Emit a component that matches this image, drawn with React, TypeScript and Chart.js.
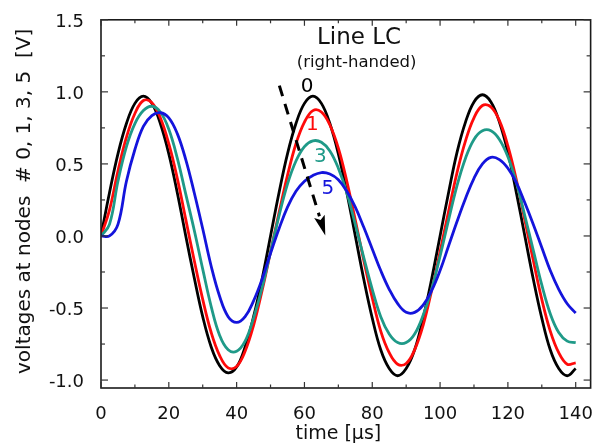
import React, { useEffect, useRef } from "react";
import { Chart, registerables } from "chart.js";

Chart.register(...registerables);

// time axis (µs)
const times = [
  0, 2.5, 5, 7.5, 10, 12.5, 15, 17.5, 20, 22.5,
  25, 27.5, 30, 32.5, 35, 37.5, 40, 42.5, 45, 47.5,
  50, 52.5, 55, 57.5, 60, 62.5, 65, 67.5, 70, 72.5,
  75, 77.5, 80, 82.5, 85, 87.5, 90, 92.5, 95, 97.5,
  100, 102.5, 105, 107.5, 110, 112.5, 115, 117.5, 120, 122.5,
  125, 127.5, 130, 132.5, 135, 137.5, 140,
];

// node #0 (black)
const node0 = [
  0, 0.3, 0.57, 0.78, 0.92, 0.97, 0.92, 0.78, 0.57, 0.3,
  0, -0.29, -0.56, -0.77, -0.9, -0.95, -0.91, -0.77, -0.56, -0.3,
  0, 0.3, 0.57, 0.78, 0.92, 0.97, 0.92, 0.78, 0.57, 0.3,
  0, -0.3, -0.57, -0.79, -0.92, -0.97, -0.92, -0.79, -0.57, -0.3,
  0, 0.3, 0.58, 0.79, 0.93, 0.98, 0.93, 0.79, 0.58, 0.3,
  0, -0.3, -0.57, -0.79, -0.92, -0.97, -0.92,
];

// node #1 (red)
const node1 = [
  0, 0.18, 0.45, 0.685, 0.85, 0.94, 0.925, 0.82, 0.64, 0.4,
  0.115, -0.17, -0.44, -0.67, -0.83, -0.915, -0.905, -0.8, -0.62, -0.38,
  -0.11, 0.16, 0.42, 0.64, 0.79, 0.87, 0.86, 0.77, 0.61, 0.38,
  0.11, -0.17, -0.43, -0.66, -0.81, -0.89, -0.885, -0.79, -0.62, -0.38,
  -0.11, 0.17, 0.44, 0.66, 0.82, 0.905, 0.895, 0.8, 0.625, 0.39,
  0.11, -0.17, -0.44, -0.66, -0.81, -0.89, -0.88,
];

// node #3 (teal)
const node3 = [
  0, 0.08, 0.38, 0.62, 0.78, 0.87, 0.9, 0.86, 0.74, 0.54,
  0.29, 0.04, -0.23, -0.49, -0.69, -0.79, -0.8, -0.73, -0.57, -0.36,
  -0.11, 0.14, 0.36, 0.52, 0.62, 0.66, 0.65, 0.59, 0.47, 0.3,
  0.08, -0.15, -0.37, -0.56, -0.68, -0.74, -0.74, -0.68, -0.55, -0.37,
  -0.14, 0.11, 0.35, 0.54, 0.67, 0.73, 0.73, 0.67, 0.55, 0.37,
  0.14, -0.1, -0.34, -0.54, -0.67, -0.73, -0.74,
];

// node #5 (blue)
const node5 = [
  0, 0, 0.08, 0.38, 0.6, 0.76, 0.835, 0.855, 0.82, 0.71,
  0.53, 0.3, 0.05, -0.21, -0.42, -0.56, -0.6, -0.56, -0.45, -0.3,
  -0.12, 0.05, 0.2, 0.31, 0.38, 0.42, 0.44, 0.43, 0.39, 0.31,
  0.2, 0.06, -0.09, -0.24, -0.37, -0.47, -0.53, -0.53, -0.48, -0.38,
  -0.24, -0.07, 0.1, 0.26, 0.4, 0.5, 0.545, 0.53, 0.47, 0.37,
  0.23, 0.08, -0.08, -0.24, -0.37, -0.47, -0.535,
];

const xTickValues = [0, 20, 40, 60, 80, 100, 120, 140];
const xMinorValues = [10, 30, 50, 70, 90, 110, 130];
const yTickValues = [-1.0, -0.5, 0.0, 0.5, 1.0, 1.5];
const yMinorValues = [-0.75, -0.25, 0.25, 0.75, 1.25];

const xTitle = "time [\u00b5s]";
const yTitle = "voltages at nodes  # 0, 1, 3, 5  [V]";
const plotTitle = "Line LC";
const plotSubtitle = "(right-handed)";

// node labels: [text, x (µs), y (V)]
const nodeLabels: [string, number, number][] = [
  ["0", 60.8, 1.0],
  ["1", 62.3, 0.738],
  ["3", 64.7, 0.512],
  ["5", 66.9, 0.293],
];
const arrowStart = [52.6, 1.043];
const arrowEnd = [66.15, 0.004];

const COLORS = {
  n0: "#000000",
  n1: "#ff0a0a",
  n3: "#1f9a88",
  n5: "#1414dc",
};

const FONT = "'DejaVu Sans', 'Liberation Sans', Arial, sans-serif";

const decorPlugin = {
  id: "decor",
  afterDatasetsDraw(chart: any) {
    const { ctx, chartArea, scales } = chart;
    const { left, right, top, bottom } = chartArea;
    const x = scales.x;
    const y = scales.y;
    ctx.save();
    // frame
    ctx.strokeStyle = "#1a1a1a";
    ctx.lineWidth = 1.6;
    ctx.strokeRect(left, top, right - left, bottom - top);
    // ticks
    ctx.lineWidth = 1.2;
    ctx.strokeStyle = "#333";
    const seg = (x1: number, y1: number, x2: number, y2: number) => {
      ctx.beginPath();
      ctx.moveTo(x1, y1);
      ctx.lineTo(x2, y2);
      ctx.stroke();
    };
    const xt = (v: number, len: number) => {
      const px = x.getPixelForValue(v);
      seg(px, bottom, px, bottom - len);
      seg(px, top, px, top + len);
    };
    const yt = (v: number, len: number) => {
      const py = y.getPixelForValue(v);
      seg(left, py, left + len, py);
      seg(right, py, right - len, py);
    };
    xTickValues.forEach((v) => xt(v, 6));
    xMinorValues.forEach((v) => xt(v, 3.5));
    yTickValues.forEach((v) => yt(v, 7));
    yMinorValues.forEach((v) => yt(v, 4));

    // titles
    ctx.fillStyle = "#111";
    ctx.textAlign = "center";
    ctx.textBaseline = "alphabetic";
    ctx.font = `19px ${FONT}`;
    ctx.fillText(xTitle, x.getPixelForValue(70), 439);
    ctx.save();
    ctx.translate(29.5, (top + bottom) / 2 - 2.5);
    ctx.rotate(-Math.PI / 2);
    ctx.font = `20px ${FONT}`;
    ctx.fillText(yTitle, 0, 0);
    ctx.restore();

    // in-plot annotations
    ctx.font = `23px ${FONT}`;
    ctx.fillText(plotTitle, x.getPixelForValue(76.1), y.getPixelForValue(1.334));
    ctx.font = `16.5px ${FONT}`;
    ctx.fillText(plotSubtitle, x.getPixelForValue(75.4), y.getPixelForValue(1.175));
    const labelColors = [COLORS.n0, COLORS.n1, COLORS.n3, COLORS.n5];
    ctx.font = `20px ${FONT}`;
    nodeLabels.forEach(([t, vx, vy], i) => {
      ctx.fillStyle = labelColors[i];
      ctx.fillText(t, x.getPixelForValue(vx), y.getPixelForValue(vy));
    });

    // dashed arrow
    const x0 = x.getPixelForValue(arrowStart[0]);
    const y0 = y.getPixelForValue(arrowStart[1]);
    const x1 = x.getPixelForValue(arrowEnd[0]);
    const y1 = y.getPixelForValue(arrowEnd[1]);
    const ang = Math.atan2(y1 - y0, x1 - x0);
    const headLen = 20;
    const headHalf = 5.5;
    const bx = x1 - headLen * Math.cos(ang);
    const by = y1 - headLen * Math.sin(ang);
    ctx.strokeStyle = "#000";
    ctx.fillStyle = "#000";
    ctx.lineWidth = 3;
    ctx.setLineDash([11, 8]);
    seg(x0, y0, bx, by);
    ctx.setLineDash([]);
    const px = -Math.sin(ang);
    const py = Math.cos(ang);
    ctx.beginPath();
    ctx.moveTo(x1, y1);
    ctx.lineTo(bx + px * headHalf, by + py * headHalf);
    ctx.lineTo(bx + 4 * Math.cos(ang), by + 4 * Math.sin(ang));
    ctx.lineTo(bx - px * headHalf, by - py * headHalf);
    ctx.closePath();
    ctx.fill();
    ctx.restore();
  },
};

export default function App() {
  const canvasRef = useRef<HTMLCanvasElement | null>(null);

  useEffect(() => {
    const canvas = canvasRef.current;
    if (!canvas) return;
    const mk = (vals: number[]) => times.map((t, i) => ({ x: t, y: vals[i] }));
    const series = [
      { label: "node 0", data: mk(node0), color: COLORS.n0, order: 4 },
      { label: "node 1", data: mk(node1), color: COLORS.n1, order: 3 },
      { label: "node 3", data: mk(node3), color: COLORS.n3, order: 2 },
      { label: "node 5", data: mk(node5), color: COLORS.n5, order: 1 },
    ];
    const chart = new Chart(canvas, {
      type: "line",
      data: {
        datasets: series.map((s) => ({
          label: s.label,
          data: s.data,
          borderColor: s.color,
          backgroundColor: s.color,
          borderWidth: 2.8,
          pointRadius: 0,
          tension: 0.4,
          fill: false,
          order: s.order,
        })),
      },
      options: {
        responsive: false,
        animation: false,
        devicePixelRatio: 1,
        layout: { padding: { top: 19, right: 4, left: 0, bottom: 0 } },
        plugins: {
          legend: { display: false },
          tooltip: { enabled: false },
        },
        scales: {
          x: {
            type: "linear",
            min: 0,
            max: 144.4,
            grid: { display: false },
            border: { display: false },
            afterBuildTicks: (s: any) => {
              s.ticks = xTickValues.map((v) => ({ value: v }));
            },
            afterFit: (s: any) => {
              s.height = 55;
            },
            ticks: {
              padding: 8,
              color: "#111",
              font: { family: FONT, size: 18 },
              maxRotation: 0,
              autoSkip: false,
              callback: (v: any) => String(v),
            },
          },
          y: {
            type: "linear",
            min: -1.055,
            max: 1.5,
            grid: { display: false },
            border: { display: false },
            afterBuildTicks: (s: any) => {
              s.ticks = yTickValues.map((v) => ({ value: v }));
            },
            afterFit: (s: any) => {
              s.width = 101;
            },
            ticks: {
              padding: 9,
              labelOffset: 2.5,
              color: "#111",
              font: { family: FONT, size: 18 },
              autoSkip: false,
              callback: (v: any) => Number(v).toFixed(1),
            },
          },
        },
      },
      plugins: [decorPlugin],
    });
    return () => chart.destroy();
  }, []);

  return (
    <div style={{ position: "absolute", left: 0, top: 0, width: 601, height: 443, background: "#fff" }}>
      <canvas ref={canvasRef} width={601} height={443} style={{ display: "block" }} />
    </div>
  );
}
